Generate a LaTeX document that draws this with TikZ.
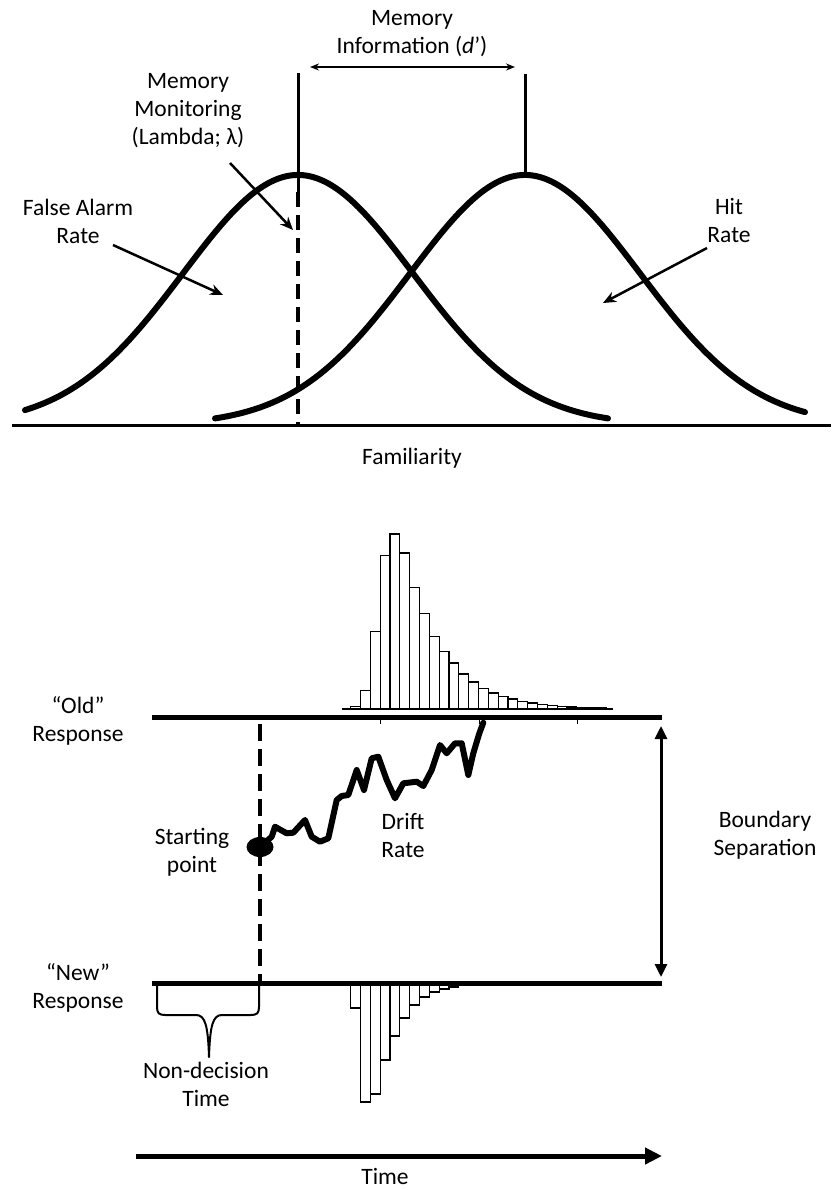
\documentclass[tikz,border=0pt]{standalone}
\usepackage{fontspec}
\setmainfont{Carlito}
\usetikzlibrary{arrows.meta,positioning,shapes.geometric}

\newcommand{\lblfont}{\fontsize{23.5}{28}\selectfont}

\begin{document}
\begin{tikzpicture}[
  x=1pt, y=-1pt,
  >=Stealth,
  lbl/.style={font=\lblfont, align=center, inner sep=0pt},
  gauss/.style={line width=6pt, line cap=round, samples=120, smooth},
  marker/.style={line width=3pt},
  crit/.style={line width=3.5pt, dash pattern=on 15pt off 8pt},
  pointer/.style={line width=2.5pt, -{Stealth[length=13pt,width=11pt]}},
  span/.style={line width=1.5pt, {Stealth[length=9pt,width=7pt]}-{Stealth[length=9pt,width=7pt]}},
  histbar/.style={draw, line width=1.2pt, fill=white},
  bound/.style={line width=5pt},
  ndt/.style={line width=4pt, dash pattern=on 17pt off 8pt},
  walk/.style={line width=6pt, line join=round, line cap=round},
  startdot/.style={ellipse, fill=black, minimum width=27pt, minimum height=20pt, inner sep=0pt},
  bsarrow/.style={line width=3pt, {Triangle[length=13pt,width=12pt]}-{Triangle[length=13pt,width=12pt]}},
  timearrow/.style={line width=5pt, -{Triangle[length=17pt,width=16pt]}}
]
\useasboundingbox (0,0) rectangle (831,1190);

% Top: signal detection (familiarity)
\draw[line width=3pt] (12,425) -- (831,425);
\draw[gauss] plot[domain=25:608] (\x, {425-250*exp(-0.5*((\x-298)/115)^2)});
\draw[gauss] plot[domain=215:805] (\x, {425-250*exp(-0.5*((\x-525)/115)^2)});

% criterion and distance markers
\coordinate (lamTop) at (298,73);
\coordinate (lamPeak) at (298,192);
\coordinate (lamFoot) at (298,425);
\coordinate (oldTop) at (525,74);
\coordinate (oldPeak) at (525,176);
\draw[marker] (lamTop) -- (lamPeak);
\draw[crit] (lamPeak) -- (lamFoot);
\draw[marker] (oldTop) -- (oldPeak);
\coordinate (dL) at (310,67);
\coordinate (dR) at (515,67);
\draw[span] (dL) -- (dR);

\node[lbl] (dLbl) at (412,34) {Memory\\Information (\textit{d}’)};
\node[lbl] (lamLbl) at (188,111) {Memory\\Monitoring\\(Lambda; λ)};
\node[lbl] (faLbl) at (78,221) {False Alarm\\Rate};
\node[lbl] (hitLbl) at (729,221) {Hit\\Rate};
\node[lbl] (famLbl) at (412,458) {Familiarity};

\coordinate (lamFrom) at (230,163);
\coordinate (lamTip) at (293,230);
\coordinate (faFrom) at (113,245);
\coordinate (faTip) at (223,295);
\coordinate (hitFrom) at (707,248);
\coordinate (hitTip) at (603,303);
\draw[pointer] (lamFrom) -- (lamTip);
\draw[pointer] (faFrom) -- (faTip);
\draw[pointer] (hitFrom) -- (hitTip);

% Bottom: diffusion model
% "old" RT histogram
\foreach \h [count=\i from 0] in {2.7,18.7,77.7,153.7,175,156,121.7,95.3,72.7,57.7,46,35,27,20.3,16,12.7,10,7.7,6,4.3,3.7,2.7,2,1.5,1.2,1}
  \draw[histbar] ({350.7+9.83*\i},709) rectangle ++(9.83,-\h);
\draw[line width=1.3pt] (342,709) -- (613,709);

% "new" RT histogram
\foreach \h [count=\i from 0] in {25,119,111,77,53,35,22,14,9,6,4,2.5,1.5}
  \draw[histbar] ({350.7+9.83*\i},983) rectangle ++(9.83,\h);

\coordinate (oldL) at (152,717);
\coordinate (oldR) at (662,717);
\coordinate (newL) at (152,983);
\coordinate (newR) at (662,983);
\draw[bound] (oldL) -- (oldR);
\draw[bound] (newL) -- (newR);
\foreach \t in {380,479,577}
  \draw[line width=1pt] (\t,717) -- (\t,724);

\draw[ndt] (260,724) -- (260,983);

\node[startdot] (start) at (260,847) {};
\draw[walk] (start.center) -- (271.7,836.7) -- (275,826.7) -- (286.7,833.3) -- (293.3,832.7)
  -- (305,820) -- (311.7,836.7) -- (320,841.7) -- (328.3,838.3) -- (336.7,800) -- (341.7,796)
  -- (348.3,795) -- (356.7,770) -- (364,790) -- (371.7,758.3) -- (378.3,756.7) -- (386.7,780)
  -- (395,798.3) -- (403.3,783.3) -- (416.7,781.7) -- (423.3,786) -- (431.7,770) -- (440,745)
  -- (446.7,753.3) -- (455,743.3) -- (461.7,743.3) -- (468.3,775) -- (473.3,753.3)
  -- (479.3,733.3) -- (483.3,722.7);

\coordinate (bsTop) at (661,726);
\coordinate (bsBot) at (661,977);
\draw[bsarrow] (bsTop) -- (bsBot);

% non-decision brace
\draw[line width=2pt, line join=round] (157,983) -- (157,1007) .. controls (157,1013) and (159,1015) .. (165,1015)
  -- (196,1015) .. controls (205,1015) and (208,1025) .. (209,1057)
  .. controls (210,1025) and (213,1015) .. (222,1015) -- (251,1015)
  .. controls (257,1015) and (259,1013) .. (259,1007) -- (259,983);

\coordinate (tL) at (136,1156);
\coordinate (tR) at (662,1156);
\draw[timearrow] (tL) -- (tR);

\node[lbl] (oldLbl) at (78,721) {“Old”\\Response};
\node[lbl] (newLbl) at (78,988) {“New”\\Response};
\node[lbl] (startLbl) at (192,852) {Starting\\point};
\node[lbl] (driftLbl) at (403,835) {Drift\\Rate};
\node[lbl] (bsLbl) at (765,835) {Boundary\\Separation};
\node[lbl] (ndLbl) at (206,1084) {Non-decision\\Time};
\node[font=\lblfont, inner sep=0pt, anchor=base] (timeLbl) at (385,1184) {Time};

\end{tikzpicture}
\end{document}
